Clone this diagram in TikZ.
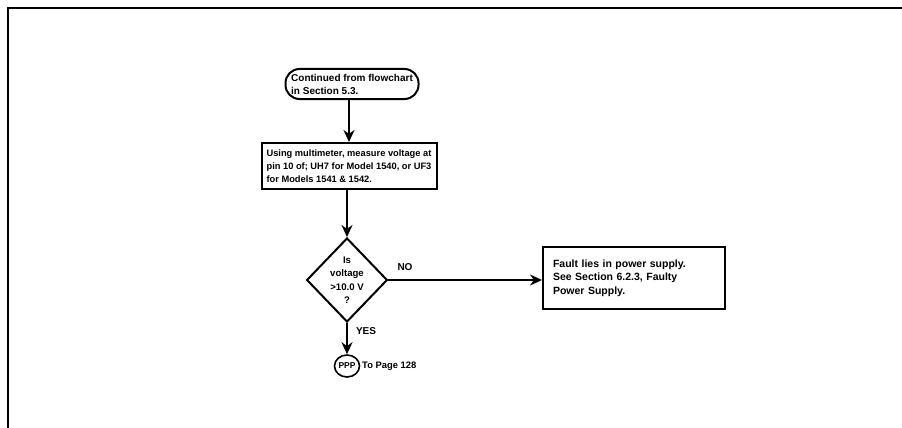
\documentclass[tikz,border=0pt]{standalone}
\usepackage{fontspec}
\setmainfont{Liberation Sans}
\usetikzlibrary{shapes.geometric,shapes.misc,arrows.meta}
\begin{document}
\begin{tikzpicture}[x=1pt,y=-1pt,
  every node/.style={font=\bfseries\fontsize{9.3}{13}\selectfont},
  box/.style={draw,line width=2pt,align=left,inner sep=0pt},
  term/.style={draw,line width=2pt,rounded corners=14pt,align=left,inner sep=0pt,minimum width=133pt,minimum height=30pt,font=\bfseries\fontsize{10}{13}\selectfont},
  decision/.style={draw,line width=2pt,diamond,align=center,inner sep=0pt,minimum width=78pt,minimum height=84pt,font=\bfseries\fontsize{9.6}{13.5}\selectfont},
  conn/.style={draw,line width=1.6pt,ellipse,inner sep=0pt,minimum width=25pt,minimum height=22pt,font=\bfseries\fontsize{8.5}{9}\selectfont},
  arr/.style={line width=2pt,-{Stealth[length=12pt,width=11pt]}},
  lbl/.style={inner sep=0pt}]
\useasboundingbox (0,0) rectangle (902,428);
\draw[line width=2.2pt] (8,428) -- (8,8) -- (902,8);
\node[term] (start) at (352,84) {Continued from flowchart\\in Section 5.3.};
\node[box,minimum width=175pt,minimum height=46pt] (meas) at (349,166) {Using multimeter, measure voltage at\\pin 10 of; UH7 for Model 1540, or UF3\\for Models 1541 \& 1542.};
\node[decision] (dec) at (347,280) {Is\\voltage\\>10.0 V\\?};
\node[box,minimum width=182pt,minimum height=62pt,text width=162pt,font=\bfseries\fontsize{10.5}{13.5}\selectfont] (fault) at (634,278) {Fault lies in power supply.\\See Section 6.2.3, Faulty\\Power Supply.};
\node[conn] (ppp) at (347,366) {PPP};
\node[lbl,anchor=west,font=\bfseries\fontsize{9.4}{11}\selectfont] (topage) at (362,366) {To Page 128};
\draw[arr] (start.south -| meas) -- (meas);
\draw[arr] (meas.south -| dec) -- (dec);
\draw[arr] (dec.east) -- (fault.west |- dec.east);
\draw[arr] (dec.south) -- (ppp.north);
\node[lbl,font=\bfseries\fontsize{10}{11}\selectfont] (no) at (405,267) {NO};
\node[lbl,font=\bfseries\fontsize{10}{11}\selectfont] (yes) at (366,331) {YES};
\end{tikzpicture}
\end{document}
